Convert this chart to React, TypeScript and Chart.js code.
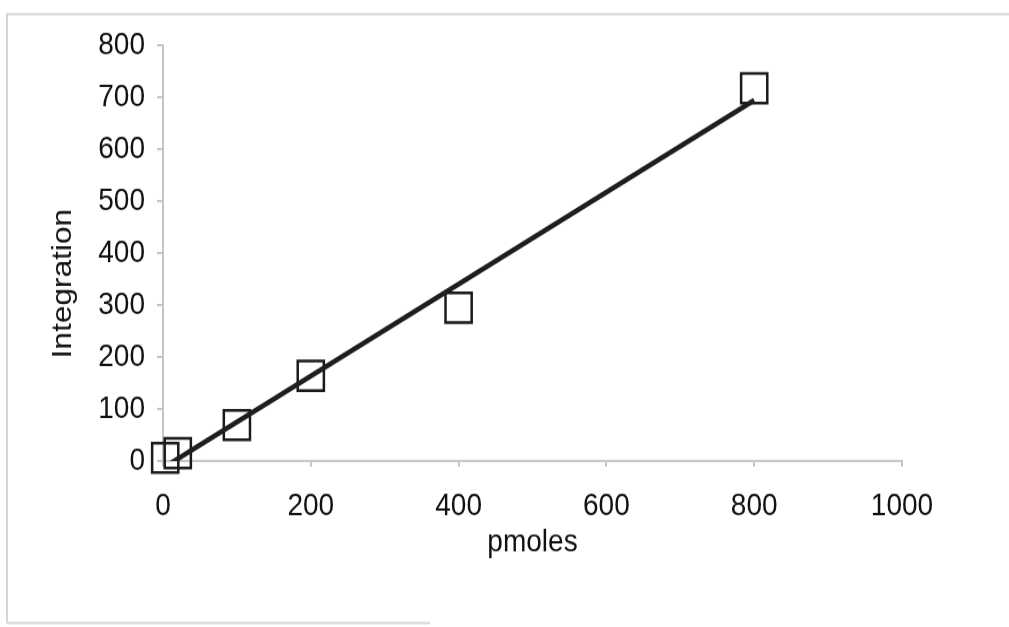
import React, { useEffect, useRef } from "react";
import { Chart, registerables } from "chart.js";

Chart.register(...registerables);

// Calibration measurements: amount injected vs. integrated peak area
const pmoles = [3, 20, 100, 200, 400, 800];
const integration = [6, 15, 69, 164, 295, 717];

const xTicks = [0, 200, 400, 600, 800, 1000];
const yTicks = [0, 100, 200, 300, 400, 500, 600, 700, 800];

const xTitle = "pmoles";
const yTitle = "Integration";

// Least-squares linear trend through the measurements
function linearFit(xs: number[], ys: number[]) {
  const n = xs.length;
  const mx = xs.reduce((a, b) => a + b, 0) / n;
  const my = ys.reduce((a, b) => a + b, 0) / n;
  let sxy = 0;
  let sxx = 0;
  for (let i = 0; i < n; i++) {
    sxy += (xs[i] - mx) * (ys[i] - my);
    sxx += (xs[i] - mx) * (xs[i] - mx);
  }
  const slope = sxy / sxx;
  return { slope, intercept: my - slope * mx };
}

const FONT = "'Liberation Sans', Arial, sans-serif";
const TEXT = "#111111";
const AXIS = "#c6c6c6";

// The chart is drawn on a shorter canvas and stretched vertically,
// giving the tall, narrow lettering and slightly tall square markers.
const W = 1009;
const H = 555;
const STRETCH = 627 / H;

export default function App() {
  const canvasRef = useRef<HTMLCanvasElement | null>(null);

  useEffect(() => {
    const canvas = canvasRef.current;
    if (!canvas) return;

    const fit = linearFit(pmoles, integration);
    const xMin = Math.min(...pmoles);
    const xMax = Math.max(...pmoles);
    const trend = [
      { x: xMin, y: fit.slope * xMin + fit.intercept },
      { x: xMax, y: fit.slope * xMax + fit.intercept },
    ];

    const framePlugin = {
      id: "frame",
      beforeDraw(chart: any) {
        const ctx = chart.ctx;
        ctx.save();
        ctx.fillStyle = "#ffffff";
        ctx.fillRect(0, 0, chart.width, chart.height);
        ctx.strokeStyle = "#d6d6d6";
        ctx.lineWidth = 2;
        ctx.beginPath();
        ctx.moveTo(7, 551.5);
        ctx.lineTo(7, 12.5);
        ctx.lineTo(W, 12.5);
        ctx.moveTo(7, 551.5);
        ctx.lineTo(430, 551.5);
        ctx.stroke();
        ctx.restore();
      },
      afterDraw(chart: any) {
        const ctx = chart.ctx;
        ctx.save();
        ctx.translate(63, 251);
        ctx.rotate(-Math.PI / 2);
        ctx.fillStyle = TEXT;
        ctx.font = `28px ${FONT}`;
        ctx.textAlign = "center";
        ctx.textBaseline = "middle";
        ctx.fillText(yTitle, 0, 0);
        ctx.restore();
      },
    };

    const chart = new Chart(canvas, {
      type: "scatter",
      data: {
        datasets: [
          {
            type: "line",
            label: "Trend",
            data: trend,
            borderColor: "#1e1e1e",
            borderWidth: 4.5,
            pointRadius: 0,
            fill: false,
            clip: 0,
            order: 0,
          },
          {
            label: "Integration",
            data: pmoles.map((x, i) => ({ x, y: integration[i] })),
            pointStyle: "rect",
            pointRadius: 18.5,
            borderColor: "#1a1a1a",
            borderWidth: 2.5,
            backgroundColor: "rgba(0,0,0,0)",
            clip: false,
            order: 1,
          },
        ],
      },
      options: {
        responsive: false,
        animation: false,
        layout: { padding: { top: 40, right: 107, left: 40, bottom: 50 } },
        plugins: {
          legend: { display: false },
          tooltip: { enabled: false },
        },
        scales: {
          x: {
            type: "linear",
            min: xTicks[0],
            max: xTicks[xTicks.length - 1],
            afterBuildTicks: (scale: any) => {
              scale.ticks = xTicks.map((v) => ({ value: v }));
            },
            afterFit: (scale: any) => {
              scale.height = 97;
            },
            grid: {
              display: true,
              drawOnChartArea: false,
              drawTicks: true,
              tickLength: 5,
              color: AXIS,
              lineWidth: 2,
            },
            border: { display: true, color: AXIS, width: 2 },
            ticks: {
              padding: 18,
              color: TEXT,
              font: { family: FONT, size: 28 },
              maxRotation: 0,
              callback: (v: any) => String(v),
            },
            title: {
              display: true,
              text: xTitle,
              color: TEXT,
              font: { family: FONT, size: 28 },
              padding: { top: 0, bottom: 7.5 },
            },
          },
          y: {
            type: "linear",
            min: yTicks[0],
            max: yTicks[yTicks.length - 1],
            afterBuildTicks: (scale: any) => {
              scale.ticks = yTicks.map((v) => ({ value: v }));
            },
            afterFit: (scale: any) => {
              scale.width = 123;
            },
            grid: {
              display: true,
              drawOnChartArea: false,
              drawTicks: true,
              tickLength: 6,
              color: AXIS,
              lineWidth: 2,
            },
            border: { display: true, color: AXIS, width: 2 },
            ticks: {
              padding: 12,
              color: TEXT,
              font: { family: FONT, size: 28 },
              callback: (v: any) => String(v),
            },
            title: { display: false },
          },
        },
      },
      plugins: [framePlugin],
    } as any);

    return () => chart.destroy();
  }, []);

  return (
    <div
      style={{
        position: "absolute",
        left: 0,
        top: 0,
        width: W,
        height: H,
        transform: `scaleY(${STRETCH})`,
        transformOrigin: "0 0",
      }}
    >
      <canvas
        ref={canvasRef}
        width={W}
        height={H}
        style={{ display: "block", width: W, height: H }}
      />
    </div>
  );
}
